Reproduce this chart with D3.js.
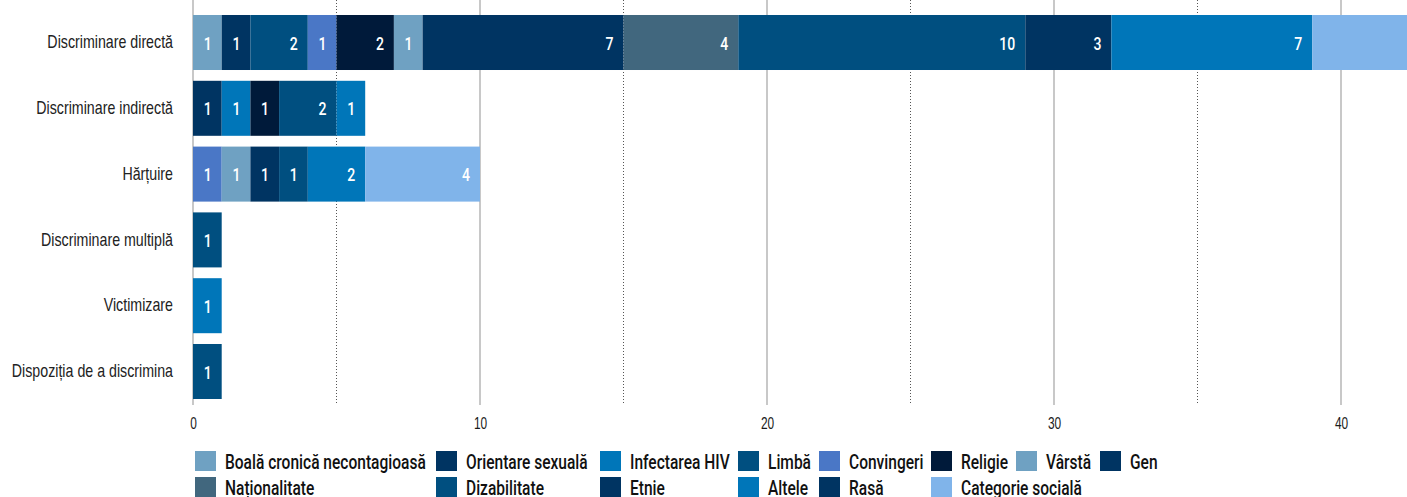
<!DOCTYPE html>
<html>
<head>
<meta charset="utf-8">
<script src="https://cdn.jsdelivr.net/npm/d3@7"></script>
<style>
  body { margin: 0; background: #fff; }
  svg { display: block; font-family: Roboto, "Noto Sans", sans-serif; }
</style>
</head>
<body>
<div id="chart"></div>
<script>
// categories (rows) and series
var categories = ["Discriminare directă", "Discriminare indirectă", "Hărțuire",
  "Discriminare multiplă", "Victimizare", "Dispoziția de a discrimina"];

var seriesNames = ["Boală cronică necontagioasă", "Orientare sexuală", "Infectarea HIV", "Limbă",
  "Convingeri", "Religie", "Vârstă", "Gen", "Naționalitate", "Dizabilitate", "Etnie",
  "Altele", "Rasă", "Categorie socială"];

// values per series, in category order
var boala         = [1, 0, 0, 0, 0, 0];
var orientare     = [1, 1, 0, 0, 0, 0];
var hiv           = [0, 1, 0, 0, 0, 0];
var limba         = [2, 0, 0, 0, 0, 0];
var convingeri    = [1, 0, 1, 0, 0, 0];
var religie       = [2, 1, 0, 0, 0, 0];
var varsta        = [1, 0, 1, 0, 0, 0];
var gen           = [7, 0, 1, 0, 0, 0];
var nationalitate = [4, 0, 0, 0, 0, 0];
var dizabilitate  = [10, 2, 1, 1, 0, 1];
var etnie         = [3, 0, 0, 0, 0, 0];
var altele        = [7, 1, 2, 0, 1, 0];
var rasa          = [0, 0, 0, 0, 0, 0];
var categorie     = [4, 0, 4, 0, 0, 0];

var xTicks = [0, 10, 20, 30, 40];
var xMinorTicks = [5, 15, 25, 35];

var seriesValues = [boala, orientare, hiv, limba, convingeri, religie, varsta, gen,
  nationalitate, dizabilitate, etnie, altele, rasa, categorie];

var colors = ["#6fa1c2", "#003462", "#0076b9", "#004f80", "#4a77c6", "#001a3a", "#6fa1c2",
  "#003462", "#41677e", "#004f80", "#003462", "#0076b9", "#003462", "#80b4ea"];

var svgWidth = 1407;
var svgHeight = 497;

var margin = { top: 0, left: 193 };
var plotBottom = 405;

var svg = d3.select("#chart")
  .append("svg")
  .attr("width", svgWidth)
  .attr("height", svgHeight);

// squash text horizontally around its anchor point (no condensed face installed)
function condense(sel, sx) {
  sel.each(function () {
    var t = d3.select(this);
    var x = +t.attr("x") || 0;
    var y = +t.attr("y") || 0;
    t.attr("x", 0).attr("y", 0)
      .attr("transform", `translate(${x},${y}) scale(${sx},1)`);
  });
}

// build table for the stack
var table = categories.map(function (c, i) {
  var row = { cat: c };
  seriesNames.forEach(function (s, j) { row[s] = seriesValues[j][i]; });
  return row;
});

var stacked = d3.stack().keys(seriesNames)(table);

var xScale = d3.scaleLinear()
  .domain([0, 45])
  .range([margin.left, margin.left + 28.7 * 45]);

var yScale = d3.scaleBand()
  .domain(categories)
  .range([9.6, 404.4])
  .paddingInner(0.164)
  .paddingOuter(0.082);

var color = d3.scaleOrdinal().domain(seriesNames).range(colors);

// grid lines
svg.append("g").selectAll("line")
  .data(xMinorTicks)
  .enter().append("line")
  .attr("x1", d => xScale(d)).attr("x2", d => xScale(d))
  .attr("y1", 0).attr("y2", plotBottom)
  .attr("stroke", "#555")
  .attr("stroke-width", 1)
  .attr("stroke-dasharray", "1,2");

svg.append("g").selectAll("line")
  .data(xTicks)
  .enter().append("line")
  .attr("x1", d => xScale(d)).attr("x2", d => xScale(d))
  .attr("y1", 0).attr("y2", plotBottom)
  .attr("stroke", "#c8c8c8")
  .attr("stroke-width", 2);

// bottom axis (labels only)
var bottomAxis = d3.axisBottom(xScale).tickValues(xTicks).tickSize(0).tickPadding(0);
var axisG = svg.append("g")
  .attr("transform", `translate(0,${plotBottom + 12})`)
  .call(bottomAxis);
axisG.select(".domain").remove();
axisG.selectAll("text")
  .attr("font-family", null)
  .attr("font-size", 17)
  .attr("font-weight", 500)
  .attr("fill", "#1a1a1a")
  .call(condense, 0.7);

// left axis (labels only)
var leftAxis = d3.axisLeft(yScale).tickSize(0).tickPadding(20);
var leftG = svg.append("g")
  .attr("transform", `translate(${margin.left},0)`)
  .call(leftAxis);
leftG.select(".domain").remove();
leftG.selectAll("text")
  .attr("font-family", null)
  .attr("font-size", 18)
  .attr("font-weight", 300)
  .attr("fill", "#222")
  .call(condense, 0.79);

// bars
var layers = svg.append("g").selectAll("g")
  .data(stacked)
  .enter().append("g")
  .attr("fill", d => color(d.key));

layers.selectAll("rect")
  .data(d => d.filter(p => p[1] - p[0] > 0))
  .enter().append("rect")
  .attr("x", d => xScale(d[0]))
  .attr("y", d => yScale(d.data.cat))
  .attr("width", d => xScale(d[1]) - xScale(d[0]))
  .attr("height", yScale.bandwidth());

layers.selectAll("text")
  .data(d => d.filter(p => p[1] - p[0] > 0))
  .enter().append("text")
  .text(d => d[1] - d[0])
  .attr("x", d => xScale(d[1]) - 10)
  .attr("y", d => yScale(d.data.cat) + yScale.bandwidth() / 2 + 7)
  .attr("text-anchor", "end")
  .attr("fill", "#fff")
  .attr("font-size", 19)
  .attr("font-weight", 500)
  .call(condense, 0.74);

// legend
var legendCols = [195, 436, 600, 738, 819, 931, 1016, 1100];
var legendRows = [451, 477];
var legend = svg.append("g").selectAll("g")
  .data(seriesNames)
  .enter().append("g")
  .attr("transform", (d, i) => `translate(${legendCols[i % 8]},${legendRows[Math.floor(i / 8)]})`);

legend.append("rect")
  .attr("width", 21)
  .attr("height", 20)
  .attr("fill", d => color(d));

legend.append("text")
  .text(d => d)
  .attr("x", 30)
  .attr("y", 18)
  .attr("font-size", 21)
  .attr("font-weight", 500)
  .attr("fill", "#111")
  .call(condense, 0.74);
</script>
</body>
</html>
